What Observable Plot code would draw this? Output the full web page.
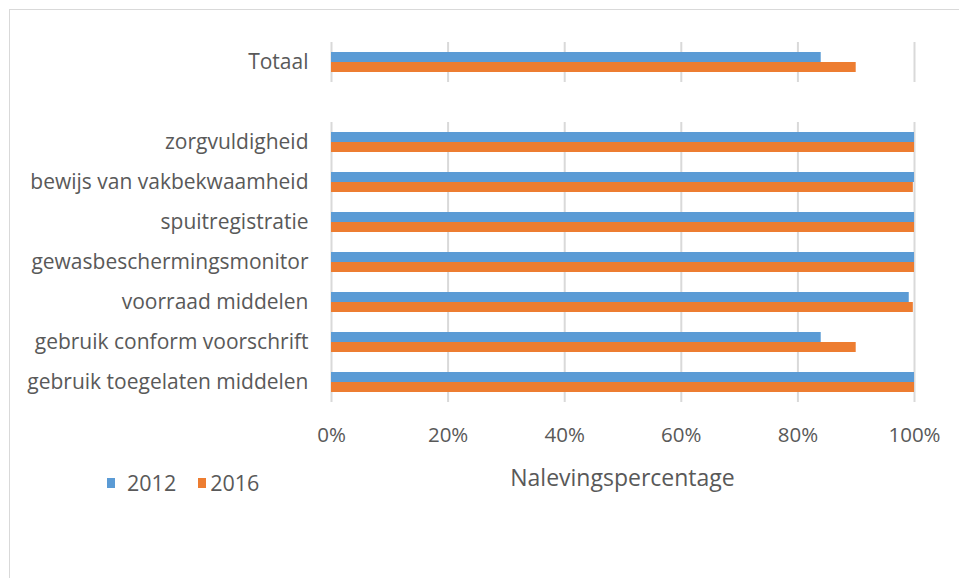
<!DOCTYPE html>
<html>
<head>
<meta charset="utf-8">
<script src="https://cdn.jsdelivr.net/npm/d3@7"></script>
<script src="https://cdn.jsdelivr.net/npm/@observablehq/plot@0.6"></script>
<style>
  html, body { margin: 0; padding: 0; background: #fff; width: 959px; height: 578px; overflow: hidden; }
  #wrap { position: relative; width: 959px; height: 578px; }
  #border { position: absolute; left: 9px; top: 9px; width: 980px; height: 600px; border: 1px solid #d9d9d9; box-sizing: border-box; }
  #chart { position: absolute; left: 0; top: 0; }
  #xtitle { position: absolute; left: 331px; width: 583px; top: 462px; text-align: center; font-family: "Open Sans", sans-serif; font-size: 23px; color: #595959; line-height: 30px; }
  #legend { position: absolute; left: 107px; top: 468px; font-family: "Open Sans", sans-serif; font-size: 21.5px; color: #595959; display: flex; align-items: center; line-height: 30px; }
  .sw { display: inline-block; width: 8px; height: 10px; }
  .item { display: flex; align-items: center; }
</style>
</head>
<body>
<div id="wrap">
  <div id="border"></div>
  <div id="chart"></div>
  <div id="xtitle">Nalevingspercentage</div>
  <div id="legend"></div>
</div>
<script>
const categories = ["Totaal", "", "zorgvuldigheid", "bewijs van vakbekwaamheid", "spuitregistratie", "gewasbeschermingsmonitor", "voorraad middelen", "gebruik conform voorschrift", "gebruik toegelaten middelen"];
const dataCategories = ["Totaal", "zorgvuldigheid", "bewijs van vakbekwaamheid", "spuitregistratie", "gewasbeschermingsmonitor", "voorraad middelen", "gebruik conform voorschrift", "gebruik toegelaten middelen"];
const values2012 = [84, 100, 100, 100, 100, 99.1, 84, 100];
const values2016 = [90, 100, 99.8, 100, 100, 99.8, 90, 100];
const series = ["2012", "2016"];
const colors = ["#5B9BD5", "#ED7D31"];
const xTicks = [0, 20, 40, 60, 80, 100];

const rows = [];
dataCategories.forEach((c, i) => {
  rows.push({category: c, year: "2012", value: values2012[i]});
  rows.push({category: c, year: "2016", value: values2016[i]});
});

const chart = Plot.plot({
  width: 959,
  height: 460,
  marginLeft: 331,
  marginRight: 45,
  marginTop: 38,
  marginBottom: 54,
  style: { fontFamily: "'Open Sans', sans-serif", fontSize: "20.5px", color: "#595959", background: "transparent" },
  x: { domain: [0, 100] },
  fy: { domain: categories, padding: 0 },
  y: { domain: series, paddingInner: 0, paddingOuter: 0.86 },
  color: { domain: series, range: colors },
  marks: [
    Plot.ruleX(xTicks, { stroke: "#d9d9d9", strokeWidth: 2 }),
    Plot.barX(rows, { fy: "category", y: "year", x: "value", fill: "year" }),
    Plot.axisFy({ anchor: "left", tickSize: 0, tickPadding: 23, label: null, fontSize: "21px" }),
    Plot.axisY({ ticks: [], label: null, tickSize: 0 }),
    Plot.axisX(xTicks, { anchor: "bottom", facetAnchor: "bottom", tickSize: 0, tickPadding: 25, tickFormat: d => d + "%", label: null })
  ]
});
document.getElementById("chart").appendChild(chart);

const legend = document.getElementById("legend");
const gaps = [12, 4];
series.forEach((s, i) => {
  const item = document.createElement("div");
  item.className = "item";
  item.style.marginRight = "22px";
  const sw = document.createElement("span");
  sw.className = "sw";
  sw.style.background = colors[i];
  sw.style.marginRight = gaps[i] + "px";
  item.appendChild(sw);
  item.appendChild(document.createTextNode(s));
  legend.appendChild(item);
});
</script>
</body>
</html>
